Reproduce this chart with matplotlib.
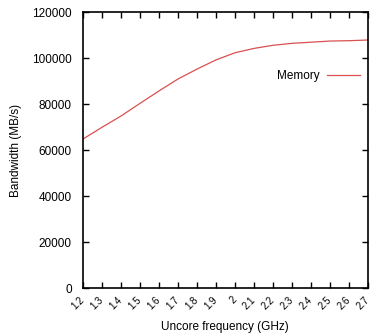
import matplotlib
matplotlib.use("Agg")
from matplotlib import pyplot as plt
import numpy as np

plt.rcParams['font.family'] = ['Liberation Sans', 'DejaVu Sans']

# uncore frequency (GHz) and measured memory bandwidth (MB/s)
freq = [1.2, 1.3, 1.4, 1.5, 1.6, 1.7, 1.8, 1.9, 2.0, 2.1, 2.2, 2.3, 2.4, 2.5, 2.6, 2.7]
bandwidth = [64900, 70000, 74900, 80400, 85800, 91000, 95300, 99300,
             102400, 104300, 105650, 106500, 107000, 107500, 107650, 107950]
tick_labels = ['1.2', '1.3', '1.4', '1.5', '1.6', '1.7', '1.8', '1.9',
               '2', '2.1', '2.2', '2.3', '2.4', '2.5', '2.6', '2.7']
y_ticks = [0, 20000, 40000, 60000, 80000, 100000, 120000]

fig = plt.figure(figsize=(3.7, 3.35), dpi=100)
ax = fig.add_axes([0.2243, 0.1394, 0.7703, 0.8239])

ax.plot(freq, bandwidth, color='#da5050', linewidth=0.9, label='Memory')

ax.set_xlim(1.2, 2.7)
ax.set_ylim(0, 120000)
ax.set_xticks(freq)
ax.set_xticklabels(tick_labels, rotation=45, ha='right', va='center',
                   rotation_mode='anchor', fontsize=7)
ax.set_yticks(y_ticks)
ax.set_yticklabels([str(v) for v in y_ticks], fontsize=8.5)

ax.tick_params(direction='in', top=True, right=True, length=4, width=1,
               color='black')
ax.tick_params(axis='x', pad=7)
ax.tick_params(axis='y', pad=8)
for s in ax.spines.values():
    s.set_linewidth(1.2)

ax.set_ylabel('Bandwidth (MB/s)', fontsize=8.5, labelpad=7)
# x label placed in figure coords so it sits under the rotated ticks
fig.text(225 / 370, 1 - 327 / 335, 'Uncore frequency (GHz)', fontsize=8.5,
         ha='center', va='center')

leg = ax.legend(loc='upper right', bbox_to_anchor=(1.01, 0.83), frameon=False,
                fontsize=8.5, markerfirst=False, handlelength=2.8,
                handletextpad=0.6)

fig.savefig('out.png', dpi=100)
